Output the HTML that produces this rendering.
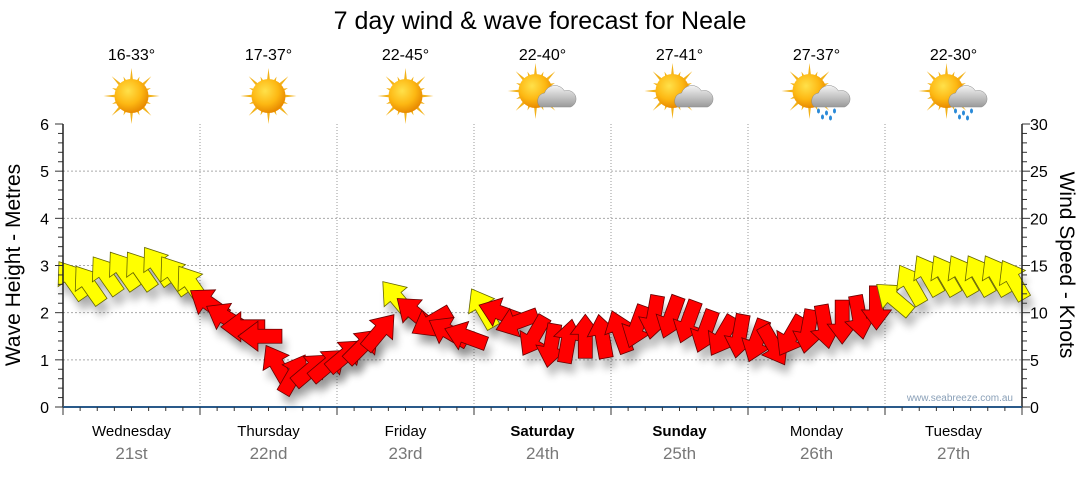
<!DOCTYPE html>
<html><head><meta charset="utf-8"><style>
body{margin:0;background:#fff;width:1080px;height:475px;overflow:hidden;font-family:"Liberation Sans",sans-serif}
svg text{font-family:"Liberation Sans",sans-serif}
</style></head><body>
<svg id="c" width="1080" height="475">
<defs>
<filter id="sh" x="-50%" y="-50%" width="200%" height="200%"><feGaussianBlur stdDeviation="4"/></filter>
<radialGradient id="sun" cx="40%" cy="35%" r="65%"><stop offset="0" stop-color="#ffe14a"/><stop offset="0.6" stop-color="#fdb813"/><stop offset="1" stop-color="#e88a00"/></radialGradient>
<linearGradient id="cl" x1="0" y1="0" x2="0" y2="1"><stop offset="0" stop-color="#f4f4f4"/><stop offset="1" stop-color="#9a9a9a"/></linearGradient>
</defs>
<text x="540" y="29" font-size="25" text-anchor="middle" fill="#000">7 day wind &amp; wave forecast for Neale</text>
<g id="grid"></g><g id="icons"></g><g id="shadows"></g><g id="arrows"></g><g id="axes"></g>
<text x="20" y="265" font-size="21" text-anchor="middle" transform="rotate(-90 20 265)">Wave Height - Metres</text>
<text x="1060" y="265" font-size="21" text-anchor="middle" transform="rotate(90 1060 265)">Wind Speed - Knots</text>
<text x="1013" y="401" font-size="10" text-anchor="end" fill="#8aa0b8">www.seabreeze.com.au</text>
</svg>
<script>
const days=["Wednesday","Thursday","Friday","Saturday","Sunday","Monday","Tuesday"];
const dates=["21st","22nd","23rd","24th","25th","26th","27th"];
const temps=["16-33°","17-37°","22-45°","22-40°","27-41°","27-37°","22-30°"];
const weather=["sun","sun","sun","cloud","cloud","rain","rain"];
const waveTicks=[0,1,2,3,4,5,6];
const windTicks=[0,5,10,15,20,25,30];
const waves=[2.7,2.6,2.8,2.9,2.9,3.0,2.8,2.6, 2.2,1.9,1.7,1.5,0.9,0.7,0.8,0.9, 1.1,1.3,1.6,2.3,2.0,1.8,1.6,1.5, 2.1,2.0,1.8,1.5,1.3,1.4,1.5,1.5, 1.6,1.7,1.9,1.9,1.8,1.6,1.5,1.5, 1.4,1.3,1.5,1.6,1.7,1.8,1.9,2.1, 2.3,2.6,2.8,2.8,2.8,2.8,2.8,2.7];
const windDir=[-125,-125,-125,-125,-125,-125,-125,-125, -145,-150,180,180,-120,-60,-40,-40, -40,-45,-50,-130,-140,150,-150,-160, -120,-160,160,120,100,-80,-90,-100, -110,110,100,110,110,110,120,100, 110,60,120,100,80,90,80,90, -140,-120,-120,-120,-120,-120,-120,-120];
const windSpd=[12,12,12,12,12,12,12,12, 16,18,18,18,20,20,18,18, 18,18,18,12,16,16,16,16, 11,18,18,18,18,18,18,18, 18,18,18,18,18,18,18,18, 18,18,18,18,18,18,18,18, 12,12,12,12,12,12,12,12];
const NS="http://www.w3.org/2000/svg";
const X0=63,X1=1022,Y0=407,Y1=124;
const dayW=(X1-X0)/7;
const xT=i=>X0+(i+0.5)*dayW/8;
const yW=v=>Y0-(v/6)*(Y0-Y1);
const yK=v=>Y0-(v/30)*(Y0-Y1);
function mk(t,a,p){const e=document.createElementNS(NS,t);for(const k in a)e.setAttribute(k,a[k]);(p||document.getElementById('c')).appendChild(e);return e;}
const grid=document.getElementById('grid'),axes=document.getElementById('axes');
waveTicks.forEach(v=>{
 if(v>0&&v<6){const g=mk('line',{x1:X0,x2:X1,y1:yW(v),y2:yW(v),stroke:'#aaa','stroke-dasharray':'2,2'},grid);
 }
 const t=mk('text',{x:X0-14,y:yW(v)+6,'font-size':16,'text-anchor':'end'},axes);t.textContent=v;
 
});
windTicks.forEach(v=>{const t=mk('text',{x:X1+8,y:yK(v)+6,'font-size':16},axes);t.textContent=v;
 });
for(let m=0;m<=30;m++){const y=Y0-m*(Y0-Y1)/30;const L=(m%5==0)?8:5;
 mk('line',{x1:X0-L,x2:X0,y1:y,y2:y,stroke:'#333'},axes);mk('line',{x1:X1,x2:X1+L,y1:y,y2:y,stroke:'#333'},axes);}
mk('line',{x1:X0,x2:X0,y1:Y1,y2:Y0,stroke:'#222','stroke-width':1.5},axes);
mk('line',{x1:X1,x2:X1,y1:Y1,y2:Y0,stroke:'#222','stroke-width':1.5},axes);
mk('line',{x1:X0,x2:X1,y1:Y0,y2:Y0,stroke:'#2a5a8a','stroke-width':2},axes);
for(let i=0;i<=56;i++){const x=X0+i*dayW/8;mk('line',{x1:x,x2:x,y1:Y0,y2:Y0+(i%8==0?8:4),stroke:'#333'},axes);}
const icons=document.getElementById('icons');
days.forEach((d,i)=>{
 const cx=X0+(i+0.5)*dayW;
 if(i>0){const l=mk('line',{x1:X0+i*dayW,x2:X0+i*dayW,y1:Y1,y2:Y0,stroke:'#999','stroke-dasharray':'1,2'},grid);
  }
 const a=mk('text',{x:cx,y:436,'font-size':15,'text-anchor':'middle','font-weight':(i==3||i==4)?'bold':'normal'},axes);a.textContent=d;
 
 const b=mk('text',{x:cx,y:459,'font-size':17,'text-anchor':'middle',fill:'#777'},axes);b.textContent=dates[i];
 
 const t=mk('text',{x:cx,y:60,'font-size':16,'text-anchor':'middle'},icons);t.textContent=temps[i];
 
 const g=mk('g',{transform:`translate(${cx},${weather[i]=='sun'?96:93})`},icons);
 
 const sx=weather[i]=='sun'?0:-7,sy=weather[i]=='sun'?0:-2;
 for(let r=0;r<16;r++){const an=r*Math.PI/8,L=r%2?21:28;
  mk('polygon',{points:`${sx+Math.cos(an-0.12)*14},${sy+Math.sin(an-0.12)*14} ${sx+Math.cos(an)*L},${sy+Math.sin(an)*L} ${sx+Math.cos(an+0.12)*14},${sy+Math.sin(an+0.12)*14}`,fill:'#f2b21a'},g);}
 mk('circle',{cx:sx,cy:sy,r:17,fill:'url(#sun)'},g);
 if(weather[i]!='sun'){
  mk('path',{d:'M-2,14 a8,8 0 0 1 4,-14 a11,11 0 0 1 20,-2 a8,8 0 0 1 6,16 z',fill:'url(#cl)',stroke:'#888','stroke-width':0.5},g);
  if(weather[i]=='rain'){[[2,18],[10,20],[18,18],[6,24],[14,25]].forEach(p=>mk('ellipse',{cx:p[0],cy:p[1],rx:1.5,ry:2.5,fill:'#2a8ad8'},g));}
 }
});
const sh=document.getElementById('shadows'),ar=document.getElementById('arrows');
const shape="-22,-7 2,-7 2,-15 22,0 2,15 2,7 -22,7";
waves.forEach((v,i)=>{
 const x=xT(i),y=yW(v),col=windSpd[i]<14?'#ffff00':'#ff0000';
 const s=mk('polygon',{points:shape,fill:'#000',opacity:0.25,filter:'url(#sh)',transform:`translate(${x+4},${y+10}) rotate(${windDir[i]})`},sh);
 
 const p=mk('polygon',{points:shape,fill:col,stroke:col=='#ff0000'?'#600':'#660','stroke-width':0.8,transform:`translate(${x},${y}) rotate(${windDir[i]})`},ar);
 
});
</script>
</body></html>
